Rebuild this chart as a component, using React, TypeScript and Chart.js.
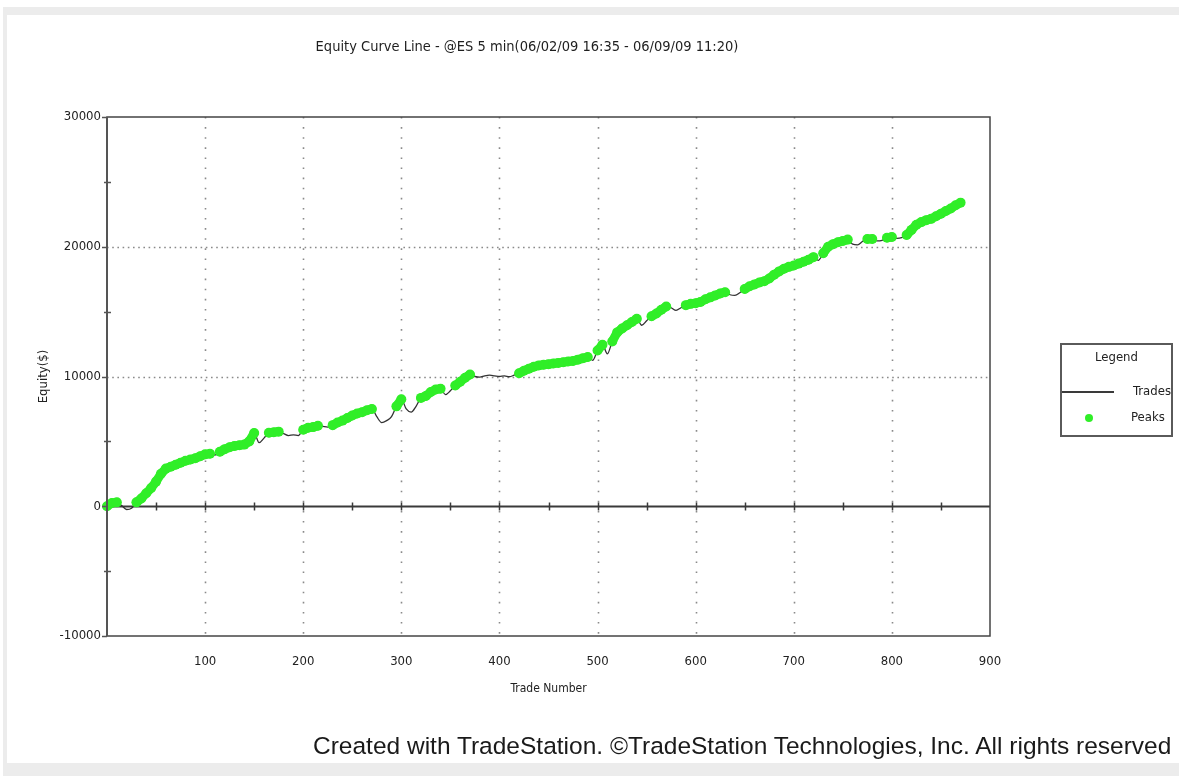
import React, { useEffect, useRef } from "react";
import { Chart, registerables } from "chart.js";

Chart.register(...registerables);

const TITLE = "Equity Curve Line - @ES 5 min(06/02/09 16:35 - 06/09/09 11:20)";
const X_TITLE = "Trade Number";
const Y_TITLE = "Equity($)";
const FOOTER = "Created with TradeStation. ©TradeStation Technologies, Inc. All rights reserved";
const LEGEND_TITLE = "Legend";
const SERIES_NAMES = ["Trades", "Peaks"];

const TRADE_STEP = 5;
// Equity ($) read every 5 trades, trade 0 .. 870
const equity = [
  0, 250, 300, 50, -250, -150, 300, 600, 1000, 1400,
  1900, 2500, 2900, 3050, 3200, 3350, 3500, 3600, 3700, 3850,
  4000, 4050, 3950, 4200, 4400, 4550, 4650, 4700, 4750, 5000,
  5650, 4900, 5250, 5660, 5700, 5750, 5600, 5450, 5500, 5450,
  5900, 6050, 6100, 6200, 6150, 6100, 6250, 6450, 6600, 6800,
  7000, 7150, 7250, 7400, 7500, 6900, 6450, 6600, 6900, 7700,
  8250, 7500, 7250, 7700, 8350, 8500, 8800, 9000, 9050, 8600,
  8900, 9300, 9600, 9900, 10150, 10000, 9950, 10050, 10100, 10050,
  10000, 10050, 9980, 10100, 10250, 10450, 10600, 10750, 10850, 10900,
  10950, 11000, 11050, 11100, 11150, 11200, 11300, 11400, 11500, 11250,
  12000, 12450, 11750, 12700, 13400, 13700, 13950, 14200, 14450, 13950,
  14300, 14650, 14850, 15150, 15400, 15300, 15100, 15300, 15500, 15600,
  15650, 15750, 15950, 16100, 16250, 16400, 16500, 16300, 16250, 16450,
  16750, 16950, 17100, 17250, 17350, 17550, 17850, 18100, 18300, 18450,
  18550, 18700, 18850, 19000, 19200, 18950, 19500, 20000, 20200, 20350,
  20450, 20550, 20200, 20150, 20400, 20600, 20600, 20450, 20500, 20700,
  20750, 20650, 20700, 20900, 21300, 21700, 21900, 22050, 22150, 22350,
  22550, 22750, 22950, 23200, 23400,
];

const X_MIN = 0;
const X_MAX = 900;
const X_STEP = 100;
const Y_MIN = -10000;
const Y_MAX = 30000;
const Y_STEP = 5000;
const X_GRID_VALUES = [100, 200, 300, 400, 500, 600, 700, 800];
const Y_GRID_VALUES = [10000, 20000];
const ZERO_TICK_VALUES = [50, 100, 150, 200, 250, 300, 350, 400, 450, 500, 550, 600, 650, 700, 750, 800, 850];

const GREEN = "rgb(48,238,40)";
const FONT = "'Liberation Sans Narrow', 'DejaVu Sans Condensed', 'Liberation Sans', sans-serif";

const framePlugin = {
  id: "tsFrame",
  beforeDatasetsDraw(chart: any) {
    const { ctx, chartArea: a, scales } = chart;
    const xs = scales.x;
    const ys = scales.y;
    ctx.save();
    ctx.strokeStyle = "#8a8a8a";
    ctx.lineWidth = 1.6;
    ctx.setLineDash([1.6, 8.5]);
    X_GRID_VALUES.forEach((v) => {
      const px = Math.round(xs.getPixelForValue(v)) + 0.5;
      ctx.beginPath();
      ctx.moveTo(px, a.top);
      ctx.lineTo(px, a.bottom);
      ctx.stroke();
    });
    ctx.setLineDash([1.6, 3.6]);
    Y_GRID_VALUES.forEach((v) => {
      const py = Math.round(ys.getPixelForValue(v)) + 0.5;
      ctx.beginPath();
      ctx.moveTo(a.left, py);
      ctx.lineTo(a.right, py);
      ctx.stroke();
    });
    ctx.setLineDash([]);
    const y0 = Math.round(ys.getPixelForValue(0)) + 0.5;
    ctx.strokeStyle = "#3a3a3a";
    ctx.lineWidth = 2;
    ctx.beginPath();
    ctx.moveTo(a.left, y0);
    ctx.lineTo(a.right, y0);
    ctx.stroke();
    ctx.lineWidth = 1.5;
    ZERO_TICK_VALUES.forEach((v) => {
      const px = Math.round(xs.getPixelForValue(v)) + 0.5;
      ctx.beginPath();
      ctx.moveTo(px, y0 - 4);
      ctx.lineTo(px, y0 + 4);
      ctx.stroke();
    });
    ctx.restore();
  },
  afterDatasetsDraw(chart: any) {
    const { ctx, chartArea: a, scales } = chart;
    const ys = scales.y;
    ctx.save();
    ctx.strokeStyle = "#444";
    ctx.lineWidth = 1.5;
    ctx.strokeRect(a.left, a.top, a.right - a.left, a.bottom - a.top);
    ctx.lineWidth = 2;
    ctx.strokeStyle = "#555";
    ctx.beginPath();
    ctx.moveTo(a.left, a.top);
    ctx.lineTo(a.left, a.bottom);
    ctx.stroke();
    ctx.lineWidth = 1.5;
    for (let v = Y_MIN; v <= Y_MAX; v += Y_STEP) {
      const py = Math.round(ys.getPixelForValue(v)) + 0.5;
      const major = v % 10000 === 0;
      ctx.beginPath();
      if (major) {
        ctx.moveTo(a.left - 5, py);
        ctx.lineTo(a.left, py);
      } else {
        ctx.moveTo(a.left - 3, py);
        ctx.lineTo(a.left + 4, py);
      }
      ctx.stroke();
    }
    ctx.fillStyle = "#1e1e1e";
    ctx.font = `14.5px ${FONT}`;
    ctx.textAlign = "center";
    ctx.textBaseline = "middle";
    ctx.fillText(TITLE, 527, 47);
    ctx.restore();
  },
};

export default function App() {
  const canvasRef = useRef<HTMLCanvasElement | null>(null);

  useEffect(() => {
    const canvas = canvasRef.current;
    if (!canvas) return;
    const tradePoints = equity.map((v, i) => ({ x: i * TRADE_STEP, y: v }));
    let runMax = -Infinity;
    const peakPoints = equity.map((v, i) => {
      if (v >= runMax) {
        runMax = v;
        return { x: i * TRADE_STEP, y: v };
      }
      return { x: i * TRADE_STEP, y: null as any };
    });

    const chart = new Chart(canvas, {
      type: "line",
      data: {
        datasets: [
          {
            label: SERIES_NAMES[1],
            data: peakPoints,
            showLine: true,
            spanGaps: false,
            borderColor: GREEN,
            borderWidth: 9,
            borderCapStyle: "round",
            borderJoinStyle: "round",
            tension: 0,
            pointRadius: 5,
            pointBackgroundColor: GREEN,
            pointBorderColor: GREEN,
            pointBorderWidth: 0,
            order: 0,
            clip: 6,
          },
          {
            label: SERIES_NAMES[0],
            data: tradePoints,
            borderColor: "#333",
            borderWidth: 1.3,
            pointRadius: 0,
            cubicInterpolationMode: "monotone",
            order: 1,
          },
        ],
      },
      options: {
        responsive: false,
        animation: false,
        events: [],
        layout: { padding: { top: 117, right: 189, left: 0, bottom: 0 } },
        plugins: {
          legend: { display: false },
          title: { display: false },
          tooltip: { enabled: false },
        },
        scales: {
          x: {
            type: "linear",
            min: X_MIN,
            max: X_MAX,
            grid: { display: false, drawTicks: false },
            border: { display: false },
            ticks: {
              stepSize: X_STEP,
              padding: 18,
              color: "#222",
              font: { family: FONT, size: 13, lineHeight: 1.2 },
              callback: (v: any) => (v === 0 ? "" : String(v)),
            },
            title: {
              display: true,
              text: X_TITLE,
              color: "#222",
              font: { family: FONT, size: 12, lineHeight: 1.2 },
              padding: { top: 0, bottom: 80 },
            },
            afterFit: (s: any) => {
              s.height = 140;
            },
          },
          y: {
            type: "linear",
            min: Y_MIN,
            max: Y_MAX,
            grid: { display: false, drawTicks: false },
            border: { display: false },
            ticks: {
              stepSize: Y_STEP,
              padding: 6,
              color: "#222",
              font: { family: FONT, size: 13, lineHeight: 1.2 },
              callback: (v: any) => (Number(v) % 10000 === 0 ? String(v) : ""),
            },
            title: {
              display: true,
              text: Y_TITLE,
              color: "#222",
              font: { family: FONT, size: 13, lineHeight: 1.2 },
              padding: { top: 36, bottom: 0 },
            },
            afterFit: (s: any) => {
              s.width = 107;
            },
          },
        },
      },
      plugins: [framePlugin],
    });
    return () => chart.destroy();
  }, []);

  return (
    <div
      style={{
        position: "absolute",
        left: 0,
        top: 0,
        width: 1179,
        height: 776,
        background: "#fff",
        overflow: "hidden",
        fontFamily: FONT,
      }}
    >
      <div style={{ position: "absolute", left: 3, top: 7, right: 0, bottom: 0, background: "#ececec" }} />
      <div style={{ position: "absolute", left: 7, top: 15, right: 0, bottom: 13, background: "#fff" }} />
      <canvas
        ref={canvasRef}
        width={1179}
        height={776}
        style={{ position: "absolute", left: 0, top: 0, width: 1179, height: 776 }}
      />
      <div
        style={{
          position: "absolute",
          left: 1060,
          top: 343,
          width: 109,
          height: 90,
          border: "2px solid #5a5a5a",
          fontSize: 13,
          color: "#222",
        }}
      >
        <div style={{ position: "absolute", left: 0, right: 0, top: 4, textAlign: "center" }}>{LEGEND_TITLE}</div>
        <div style={{ position: "absolute", left: 0, top: 46, width: 52, height: 2, background: "#3a3a3a" }} />
        <div style={{ position: "absolute", right: 0, top: 38 }}>{SERIES_NAMES[0]}</div>
        <div
          style={{
            position: "absolute",
            left: 23,
            top: 69,
            width: 8,
            height: 8,
            borderRadius: 4,
            background: GREEN,
          }}
        />
        <div style={{ position: "absolute", left: 69, top: 64 }}>{SERIES_NAMES[1]}</div>
      </div>
      <div
        style={{
          position: "absolute",
          left: 313,
          top: 732,
          lineHeight: "28px",
          fontSize: 24.5,
          whiteSpace: "nowrap",
          color: "#1a1a1a",
          fontFamily: "'Liberation Sans', Arial, sans-serif",
        }}
      >
        {FOOTER}
      </div>
    </div>
  );
}
